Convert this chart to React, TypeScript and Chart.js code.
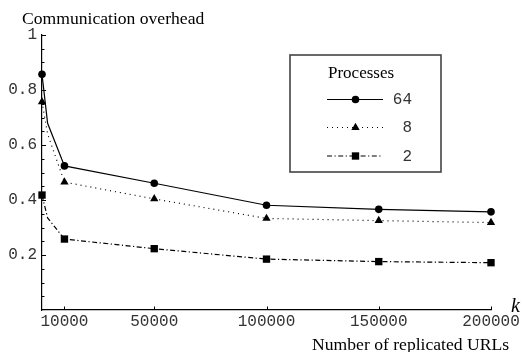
import React, { useEffect, useRef } from "react";
import { Chart, registerables } from "chart.js";

Chart.register(...registerables);

const kValues = [0, 2500, 10000, 50000, 100000, 150000, 200000];
const markerShown = [1, 0, 1, 1, 1, 1, 1];
const series64 = [0.857, 0.679, 0.524, 0.461, 0.381, 0.366, 0.357];
const series8 = [0.757, 0.64, 0.465, 0.404, 0.333, 0.325, 0.318];
const series2 = [0.418, 0.335, 0.258, 0.223, 0.185, 0.176, 0.172];
const seriesLabels = ["64", "8", "2"];
const xTicks = [10000, 50000, 100000, 150000, 200000];
const yTicks = [0.2, 0.4, 0.6, 0.8, 1];
const yMinorTicks = [0.05, 0.1, 0.15, 0.25, 0.3, 0.35, 0.45, 0.5, 0.55, 0.65, 0.7, 0.75, 0.85, 0.9, 0.95];

const MONO = "'Liberation Mono', 'DejaVu Sans Mono', monospace";
const SERIF = "'Liberation Serif', 'DejaVu Serif', serif";

const styles = [
  { dash: [] as number[], point: "circle", radius: 3.8 },
  { dash: [1, 4], point: "triangle", radius: 4.8 },
  { dash: [5, 2.5, 1.2, 2.5], point: "rect", radius: 5.2 },
];

function drawMarker(ctx: CanvasRenderingContext2D, kind: string, r: number, px: number, py: number) {
  ctx.beginPath();
  if (kind === "circle") {
    ctx.arc(px, py, r, 0, Math.PI * 2);
  } else if (kind === "triangle") {
    for (let i = 0; i < 3; i++) {
      const a = (i * 2 * Math.PI) / 3;
      const vx = px + Math.sin(a) * r;
      const vy = py - Math.cos(a) * r;
      if (i === 0) ctx.moveTo(vx, vy);
      else ctx.lineTo(vx, vy);
    }
    ctx.closePath();
  } else {
    const s = r * Math.SQRT1_2;
    ctx.rect(px - s, py - s, 2 * s, 2 * s);
  }
  ctx.fill();
}

const decor = {
  id: "decor",
  afterDraw(chart: any) {
    const { ctx, scales } = chart;
    const xs = scales.x;
    const ys = scales.y;
    const x0 = xs.getPixelForValue(0);
    const y0 = ys.getPixelForValue(0);
    ctx.save();
    ctx.strokeStyle = "#000";
    ctx.lineWidth = 1;
    const tick = (v: number, len: number) => {
      const py = Math.round(ys.getPixelForValue(v)) + 0.5;
      ctx.beginPath();
      ctx.moveTo(x0, py);
      ctx.lineTo(x0 + len, py);
      ctx.stroke();
    };
    yTicks.forEach((v) => tick(v, 4));
    yMinorTicks.forEach((v) => tick(v, 2.5));
    xTicks.forEach((v) => {
      const px = Math.round(xs.getPixelForValue(v)) + 0.5;
      ctx.beginPath();
      ctx.moveTo(px, y0);
      ctx.lineTo(px, y0 - 3.5);
      ctx.stroke();
    });

    ctx.fillStyle = "#000";
    ctx.textBaseline = "alphabetic";
    ctx.textAlign = "left";
    ctx.font = `17.6px ${SERIF}`;
    ctx.fillText("Communication overhead", 22, 24);
    ctx.textAlign = "right";
    ctx.fillText("Number of replicated URLs", 509, 350);
    ctx.font = `italic 20px ${SERIF}`;
    ctx.textAlign = "left";
    ctx.fillText("k", 511, 312);

    const bx = 290, by = 55, bw = 151, bh = 117;
    ctx.strokeStyle = "#444";
    ctx.lineWidth = 1.6;
    ctx.strokeRect(bx, by, bw, bh);
    ctx.fillStyle = "#000";
    ctx.font = `17px ${SERIF}`;
    ctx.textAlign = "left";
    ctx.fillText("Processes", 328, 78);
    const rowsY = [99.5, 127.5, 156];
    seriesLabels.forEach((lab, i) => {
      const st = styles[i];
      const yy = rowsY[i];
      ctx.strokeStyle = "#000";
      ctx.lineWidth = 1.2;
      ctx.setLineDash(st.dash);
      ctx.beginPath();
      ctx.moveTo(327, yy);
      ctx.lineTo(383, yy);
      ctx.stroke();
      ctx.setLineDash([]);
      ctx.fillStyle = "#000";
      drawMarker(ctx, st.point, st.radius, 355.5, yy);
      ctx.font = `16px ${MONO}`;
      ctx.fillStyle = "#333";
      ctx.textAlign = "right";
      ctx.textBaseline = "middle";
      ctx.fillText(lab, 412, yy + 0.5);
      ctx.textBaseline = "alphabetic";
    });
    ctx.restore();
  },
};

export default function App() {
  const ref = useRef<HTMLCanvasElement>(null);
  useEffect(() => {
    if (!ref.current) return;
    const allSeries = [series64, series8, series2];
    const datasets = allSeries.map((vals, i) => ({
      label: seriesLabels[i],
      data: kValues.map((k, j) => ({ x: k, y: vals[j] })),
      borderColor: "#000",
      backgroundColor: "#000",
      borderWidth: 1.2,
      borderDash: styles[i].dash,
      pointStyle: styles[i].point,
      pointRadius: markerShown.map((m) => (m ? styles[i].radius : 0)),
      pointBorderWidth: 0,
      pointBackgroundColor: "#000",
      tension: 0,
      clip: false as any,
    }));
    const chart = new Chart(ref.current, {
      type: "line",
      data: { datasets },
      plugins: [decor],
      options: {
        animation: false,
        responsive: false,
        devicePixelRatio: 1,
        layout: { padding: { top: 35, right: 34, left: 0, bottom: 0 } },
        plugins: { legend: { display: false }, tooltip: { enabled: false } },
        scales: {
          x: {
            type: "linear",
            min: 0,
            max: 200000,
            afterBuildTicks: (s: any) => {
              s.ticks = xTicks.map((v) => ({ value: v }));
            },
            afterFit: (s: any) => {
              s.height = 42;
            },
            ticks: {
              callback: (v: any) => String(v),
              font: { family: MONO, size: 16 },
              color: "#333",
              padding: 2.5,
              maxRotation: 0,
              autoSkip: false,
            },
            grid: { display: false, drawTicks: false },
            border: { display: true, color: "#000", width: 1.2 },
          },
          y: {
            type: "linear",
            min: 0,
            max: 1,
            afterBuildTicks: (s: any) => {
              s.ticks = yTicks.map((v) => ({ value: v }));
            },
            afterFit: (s: any) => {
              s.width = 42;
            },
            ticks: {
              callback: (v: any) => String(Math.round(v * 10) / 10),
              font: { family: MONO, size: 16 },
              color: "#333",
              padding: 5,
            },
            grid: { display: false, drawTicks: false },
            border: { display: true, color: "#000", width: 1.2 },
          },
        },
      },
    });
    return () => chart.destroy();
  }, []);
  return (
    <div style={{ position: "fixed", left: 0, top: 0, width: 525, height: 352, background: "#fff" }}>
      <canvas ref={ref} width={525} height={352} style={{ width: 525, height: 352, display: "block" }} />
    </div>
  );
}
